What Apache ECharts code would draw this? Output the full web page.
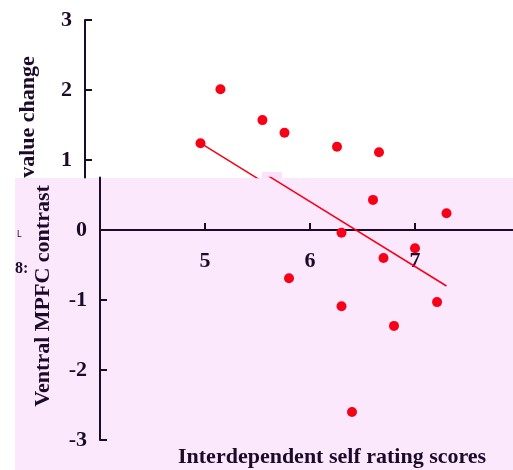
<!DOCTYPE html>
<html>
<head>
<meta charset="utf-8">
<script src="https://cdn.jsdelivr.net/npm/echarts@6/dist/echarts.min.js"></script>
<style>
    html, body { margin: 0; padding: 0; background: #fff; }
    #chart { width: 513px; height: 470px; }
</style>
</head>
<body>
<div id="chart"></div>
<script>
// upper panel (white part of the picture, drawn shifted left)
const topX = [5.10, 5.29, 5.69, 5.90, 6.40, 6.80];
const topY = [1.24, 2.01, 1.57, 1.39, 1.19, 1.11];
// lower panel (pink part)
const bottomX = [6.60, 7.30, 6.30, 7.00, 6.70, 5.80, 6.30, 7.21, 6.80, 6.40];
const bottomY = [0.43, 0.24, -0.04, -0.26, -0.40, -0.69, -1.09, -1.03, -1.37, -2.60];
// fitted line ends
const fitX = [5.10, 7.30];
const fitY = [1.24, -0.80];
// tick labels
const xTicks = [5, 6, 7];
const yTicksTop = [1, 2, 3];
const yTicksBottom = [-3, -2, -1, 0];

const ink = "#1c0a2a";
const red = "#f70018";
const serif = "Liberation Serif";

const toPairs = (xs, ys) => xs.map((x, i) => [x, ys[i]]);

const labelStyle = { color: ink, fontFamily: serif, fontWeight: "bold", fontSize: 22 };
const lineStyle = { color: ink, width: 2 };

// small tick marks drawn as rect symbols on the axes
const tickMarks = (axisIdx, data, size, offset) => ({
    type: "scatter", xAxisIndex: axisIdx, yAxisIndex: axisIdx, clip: false, silent: true, z: 3,
    data, symbol: "rect", symbolSize: size, symbolOffset: offset,
    itemStyle: { color: ink, opacity: 1 }
});

const chart = echarts.init(document.getElementById("chart"));
chart.setOption({
    backgroundColor: "#fff",
    animation: false,
    grid: [
        { left: 85, top: 20, width: 420, height: 157.5, outerBoundsMode: "none", containLabel: false },
        { left: 100, top: 177.5, width: 420, height: 262.5, outerBoundsMode: "none", containLabel: false }
    ],
    xAxis: [
        { gridIndex: 0, type: "value", min: 4, max: 8, show: false },
        {
            // x axis sits on y = 0 of the lower panel (0.75 above -> 52.5px below its top)
            gridIndex: 1, type: "value", min: 4, max: 8, interval: 1, position: "bottom", offset: -210,
            axisLine: { show: true, onZero: false, lineStyle },
            axisTick: { show: false },
            axisLabel: { ...labelStyle, margin: 20, customValues: xTicks },
            splitLine: { show: false }
        }
    ],
    yAxis: [
        {
            gridIndex: 0, type: "value", min: 0.75, max: 3,
            axisLine: { show: true, lineStyle },
            axisTick: { show: false },
            axisLabel: { ...labelStyle, margin: 13, customValues: yTicksTop },
            splitLine: { show: false }
        },
        {
            gridIndex: 1, type: "value", min: -3, max: 0.75,
            axisLine: { show: true, lineStyle },
            axisTick: { show: false },
            axisLabel: { ...labelStyle, margin: 13, customValues: yTicksBottom },
            splitLine: { show: false }
        }
    ],
    graphic: [
        { type: "rect", z: -10, shape: { x: 15, y: 178, width: 498, height: 292 }, style: { fill: "#fce8fc" } },
        { type: "rect", z: -10, shape: { x: 262, y: 172, width: 20, height: 6 }, style: { fill: "#fbe2f8" } },
        {
            type: "text", x: 43, y: 296, rotation: Math.PI / 2,
            style: { text: "Ventral MPFC contrast", fill: ink, font: "bold 22px 'Liberation Serif'", align: "center", verticalAlign: "middle" }
        },
        {
            type: "text", x: 28, y: 117, rotation: Math.PI / 2,
            style: { text: "value change", fill: ink, font: "bold 22px 'Liberation Serif'", align: "center", verticalAlign: "middle" }
        },
        {
            type: "text", x: 178, y: 457,
            style: { text: "Interdependent self rating scores", fill: ink, font: "bold 22px 'Liberation Serif'", align: "left", verticalAlign: "middle" }
        },
        {
            type: "text", x: 15, y: 269,
            style: { text: "8:", fill: ink, font: "bold 16px 'Liberation Serif'", align: "left", verticalAlign: "middle" }
        },
        {
            type: "text", x: 17, y: 235,
            style: { text: "L", fill: ink, font: "8px 'DejaVu Sans'", align: "left", verticalAlign: "middle" }
        }
    ],
    series: [
        {
            type: "scatter", xAxisIndex: 0, yAxisIndex: 0,
            data: toPairs(topX, topY), symbolSize: 10,
            itemStyle: { color: red, opacity: 1 }
        },
        {
            type: "line", xAxisIndex: 0, yAxisIndex: 0, clip: true,
            data: toPairs(fitX, fitY), showSymbol: false,
            lineStyle: { color: red, width: 1.5 }
        },
        {
            type: "scatter", xAxisIndex: 1, yAxisIndex: 1,
            data: toPairs(bottomX, bottomY), symbolSize: 10,
            itemStyle: { color: red, opacity: 1 }
        },
        {
            type: "line", xAxisIndex: 1, yAxisIndex: 1, clip: true,
            data: toPairs(fitX, fitY), showSymbol: false,
            lineStyle: { color: red, width: 1.5 }
        },
        tickMarks(1, xTicks.map(v => [v, 0]), [2, 7], [0, -3.5]),
        tickMarks(0, yTicksTop.map(v => [4, v]), [7, 2], [3.5, 0]),
        tickMarks(1, yTicksBottom.filter(v => v !== 0).map(v => [4, v]), [7, 2], [3.5, 0])
    ]
});
</script>
</body>
</html>
